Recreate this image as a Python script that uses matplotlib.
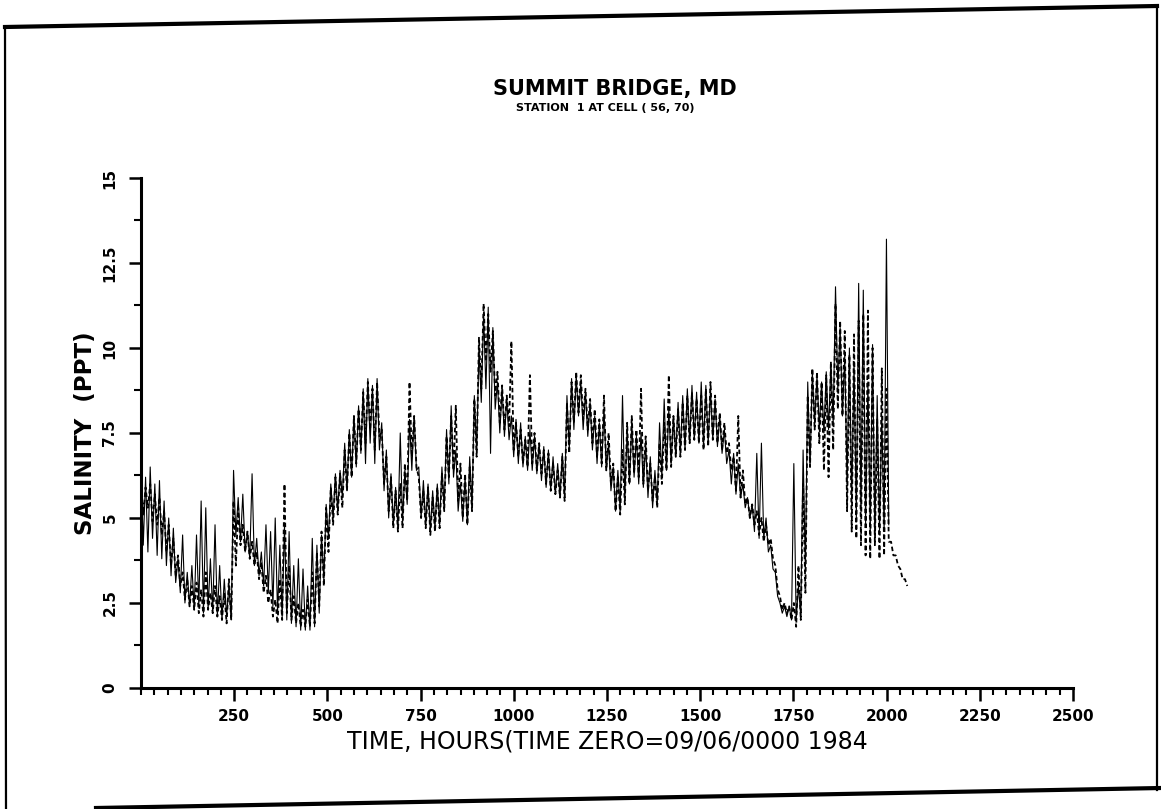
import numpy as np
import matplotlib
matplotlib.use("Agg")
import matplotlib.pyplot as plt
from matplotlib.lines import Line2D
from matplotlib.ticker import FixedLocator, MultipleLocator

# ---------------- data ----------------
TIDAL_PERIOD = 12.42  # hours between successive highs

# Dashed series: per tidal cycle high / low salinity (ppt)
model_high = [
    6.1, 5.9, 6.0, 5.7, 5.6, 5.2, 4.8, 4.4, 3.9, 3.4, 3.2, 3.0,
    3.1, 2.9, 3.4, 2.8, 3.0, 2.7, 2.8, 3.2, 5.5, 5.3, 4.8, 4.6,
    4.3, 4.0, 3.7, 3.3, 2.9, 2.6, 3.2, 6.0, 3.6, 2.7, 2.5, 2.3,
    2.6, 3.4, 4.0, 4.6, 5.3, 5.9, 6.2, 6.3, 7.0, 7.5, 8.0, 8.2,
    8.7, 9.0, 8.8, 9.0, 7.6, 6.8, 6.2, 5.8, 6.0, 6.6, 9.0, 8.0,
    6.2, 5.8, 5.9, 5.6, 5.9, 6.3, 7.4, 8.0, 8.3, 6.6, 6.3, 6.5,
    8.5, 10.3, 11.3, 11.0, 10.5, 9.3, 8.9, 8.6, 10.2, 7.8, 7.6, 7.3,
    9.2, 7.5, 7.2, 7.0, 6.9, 6.6, 6.4, 6.8, 8.4, 9.0, 9.3, 9.2,
    8.8, 8.5, 8.2, 7.9, 8.6, 7.5, 6.6, 6.2, 7.0, 7.8, 8.0, 7.6,
    8.8, 7.4, 6.6, 6.2, 7.2, 7.8, 9.2, 8.0, 8.2, 8.4, 8.6, 8.7,
    8.5, 8.6, 8.8, 9.0, 8.6, 8.1, 7.8, 7.2, 6.8, 8.0, 6.4, 5.6,
    5.4, 5.2, 5.0, 4.8, 4.4, 3.6, 2.7, 2.5, 2.4, 2.5, 3.6, 6.0,
    8.6, 9.4, 9.3, 9.0, 9.2, 9.6, 11.3, 10.8, 10.5, 9.8, 10.4, 10.8,
    11.0, 11.1, 10.0, 7.9, 9.4, 8.8, 4.3, 3.9, 3.5, 3.2,
]
model_low = [
    5.1, 5.3, 4.9, 4.8, 4.5, 4.0, 3.6, 3.3, 3.0, 2.6, 2.4, 2.3,
    2.2, 2.1, 2.3, 2.2, 2.1, 2.0, 1.9, 2.0, 3.6, 4.2, 4.0, 3.8,
    3.6, 3.2, 2.8, 2.5, 2.1, 1.9, 2.0, 2.2, 2.0, 1.9, 1.8, 1.8,
    1.8, 1.9, 2.4, 3.0, 4.0, 4.8, 5.1, 5.3, 5.8, 6.2, 6.6, 7.0,
    7.2, 7.6, 7.0, 7.4, 6.0, 5.2, 4.7, 4.6, 4.7, 5.5, 6.8, 6.5,
    5.0, 4.7, 4.5, 4.6, 4.7, 5.2, 6.2, 6.4, 5.5, 5.0, 4.8, 5.2,
    6.8, 8.8, 9.6, 9.3, 8.6, 7.8, 7.6, 7.7, 7.0, 6.8, 6.6, 6.5,
    6.6, 6.4, 6.3, 6.0, 5.8, 5.7, 5.6, 5.5, 6.9, 7.8, 8.1, 7.9,
    7.6, 7.2, 6.8, 6.6, 6.4, 6.0, 5.2, 5.1, 5.4, 6.0, 6.3, 6.2,
    6.0, 5.8, 5.5, 5.3, 6.0, 6.4, 6.5, 6.8, 6.8, 7.0, 7.2, 7.3,
    7.2, 7.0, 7.1, 7.3, 7.2, 7.0, 6.9, 6.4, 5.8, 5.6, 5.4, 5.0,
    4.8, 4.5, 4.3, 4.2, 3.8, 2.9, 2.3, 2.2, 2.0, 1.8, 2.0, 2.8,
    6.5, 7.6, 7.2, 6.4, 6.2, 7.0, 8.2, 8.0, 5.2, 4.6, 4.4, 4.2,
    3.9, 3.8, 4.2, 3.8, 3.9, 4.3, 3.9, 3.6, 3.2, 3.0,
]

# Solid series: per tidal cycle high / low salinity (ppt)
obs_high = [
    6.6, 6.2, 6.5, 6.0, 6.1, 5.5, 5.0, 4.7, 3.8, 4.5, 3.4, 3.6,
    4.5, 5.5, 5.3, 3.8, 4.8, 3.6, 3.2, 3.0, 6.4, 5.6, 5.7, 4.6,
    6.3, 4.4, 4.0, 4.8, 4.6, 5.0, 4.2, 4.8, 4.6, 3.6, 3.8, 3.5,
    3.0, 4.4, 4.2, 4.5, 5.4, 6.0, 6.3, 6.4, 7.2, 7.6, 8.0, 8.3,
    8.8, 9.1, 8.9, 9.1, 7.8, 7.0, 6.3, 5.9, 7.5, 6.4, 7.9, 8.0,
    6.5, 6.1, 6.0, 5.8, 6.0, 6.5, 7.6, 8.3, 7.0, 6.0, 6.2, 6.8,
    8.6, 10.0, 11.0, 11.2, 10.6, 9.0, 8.8, 8.5, 8.0, 7.9, 7.8, 7.4,
    7.6, 7.4, 7.2, 7.1, 7.0, 6.8, 6.6, 6.9, 8.6, 9.1, 9.2, 9.0,
    8.7, 8.4, 8.0, 7.8, 8.2, 7.2, 6.5, 6.4, 8.6, 7.6, 7.8, 7.4,
    7.5, 7.2, 6.8, 6.4, 7.8, 8.5, 8.2, 8.0, 8.4, 8.6, 8.8, 8.9,
    8.7, 9.0, 8.9, 8.8, 8.5, 8.0, 7.6, 7.0, 6.9, 6.6, 6.0, 5.6,
    5.4, 6.9, 7.2, 5.0, 4.2, 3.4, 2.5, 2.4, 2.4, 6.6, 3.0, 7.0,
    9.0, 9.3, 9.2, 9.0, 9.3, 9.5, 11.8, 10.6, 9.8, 10.0, 9.5, 11.9,
    11.7, 9.0, 10.1, 8.6, 8.0, 13.2,
]
obs_low = [
    4.2, 4.0, 4.4, 3.9, 3.8, 3.6, 3.3, 3.1, 2.8, 2.5, 2.4, 2.3,
    2.4, 2.2, 2.3, 2.2, 2.1, 2.0, 2.1, 2.0, 4.5, 4.3, 4.0, 3.8,
    3.6, 3.3, 3.0, 2.8, 2.4, 2.2, 2.1, 2.0, 1.9, 1.8, 1.7, 1.7,
    1.7, 1.8, 2.2, 3.2, 4.4, 5.0, 5.2, 5.6, 5.8, 6.2, 6.5, 6.9,
    6.6, 7.2, 6.6, 7.0, 5.8, 5.0, 4.8, 4.7, 4.9, 5.4, 6.4, 6.4,
    5.0, 4.8, 4.6, 4.7, 4.8, 5.3, 6.0, 6.2, 5.2, 4.9, 4.8, 5.3,
    6.9, 8.4, 8.8, 6.9, 8.2, 7.5, 7.4, 7.3, 6.8, 6.6, 6.5, 6.4,
    6.4, 6.3, 6.1, 5.9, 5.8, 5.7, 5.6, 5.6, 7.0, 7.6, 8.0, 7.6,
    7.4, 7.0, 6.6, 6.5, 6.4, 5.8, 5.2, 5.2, 5.6, 6.0, 6.2, 6.0,
    5.9, 5.6, 5.3, 5.4, 6.2, 6.4, 6.6, 6.8, 6.9, 7.0, 7.2, 7.3,
    7.2, 7.1, 7.2, 7.3, 7.1, 6.9, 6.6, 6.0, 5.7, 5.6, 5.3, 5.0,
    4.6, 4.4, 4.4, 4.0, 3.5, 2.7, 2.2, 2.1, 2.0, 2.0, 2.1, 3.5,
    6.5, 7.8, 7.6, 7.5, 7.6, 7.8, 8.8, 8.0, 6.0, 5.5, 5.0, 5.2,
    4.8, 4.6, 4.5, 4.6, 4.6, 4.8,
]

x_ticks = [250, 500, 750, 1000, 1250, 1500, 1750, 2000, 2250, 2500]
x_ticklabels = ["250", "500", "750", "1000", "1250", "1500", "1750", "2000", "2250", "2500"]
y_ticks = [0, 2.5, 5, 7.5, 10, 12.5, 15]
y_ticklabels = ["0", "2.5", "5", "7.5", "10", "12.5", "15"]

title = "SUMMIT BRIDGE, MD"
subtitle = "STATION  1 AT CELL ( 56, 70)"
xlabel = "TIME, HOURS(TIME ZERO=09/06/0000 1984"
ylabel = "SALINITY  (PPT)"


def tidal_series(highs, lows, period):
    n = len(highs)
    t = np.empty(2 * n)
    v = np.empty(2 * n)
    k = np.arange(n) * period
    t[0::2] = k
    t[1::2] = k + period / 2.0
    v[0::2] = highs
    v[1::2] = lows
    return t, v


t_mod, s_mod = tidal_series(model_high, model_low, TIDAL_PERIOD)
t_obs, s_obs = tidal_series(obs_high, obs_low, TIDAL_PERIOD)

# ---------------- figure ----------------
fig = plt.figure(figsize=(11.61, 8.09), dpi=100)
fig.patch.set_facecolor("white")
ax = fig.add_axes([0.1214, 0.1496, 0.8028, 0.6304])

ax.plot(t_obs, s_obs, color="black", lw=0.8, ls="-")
ax.plot(t_mod, s_mod, color="black", lw=1.3, ls=(0, (2.5, 1.6)))

ax.set_xlim(0, 2500)
ax.set_ylim(0, 15)
for side in ("top", "right"):
    ax.spines[side].set_visible(False)
for side in ("left", "bottom"):
    ax.spines[side].set_linewidth(2.2)
    ax.spines[side].set_color("black")

ax.xaxis.set_major_locator(FixedLocator(x_ticks))
ax.set_xticklabels(x_ticklabels, fontsize=11, fontweight="bold")
ax.xaxis.set_minor_locator(FixedLocator(np.linspace(0, 2500, 71)))
ax.yaxis.set_major_locator(FixedLocator(y_ticks))
ax.set_yticklabels(y_ticklabels, fontsize=11, fontweight="bold",
                   rotation=90, va="center")
ax.yaxis.set_minor_locator(MultipleLocator(1.25))

ax.tick_params(axis="x", which="major", direction="out", length=9, width=1.8, pad=6)
ax.tick_params(axis="x", which="minor", direction="out", length=5, width=1.5)
ax.tick_params(axis="y", which="major", direction="out", length=9, width=1.8, pad=8)
ax.tick_params(axis="y", which="minor", direction="out", length=5, width=1.5)

ax.set_xlabel(xlabel, fontsize=17, labelpad=4)
ax.set_ylabel(ylabel, fontsize=16.5, fontweight="bold", labelpad=4)

fig.text(0.530, 0.890, title, ha="center", va="center",
         fontsize=15, fontweight="heavy")
fig.text(0.521, 0.866, subtitle, ha="center", va="center",
         fontsize=8, fontweight="heavy")

# scanned page frame (decoration)
W, H = 1161.0, 809.0
frame = [
    ((5, 27), (1157, 6), 3.0),
    ((5, 27), (6, 809), 1.6),
    ((1157, 6), (1157, 790), 1.6),
    ((96, 808), (1161, 788), 3.0),
]
for (x0, y0), (x1, y1), lw in frame:
    fig.add_artist(Line2D([x0 / W, x1 / W], [1 - y0 / H, 1 - y1 / H],
                          transform=fig.transFigure, color="black", lw=lw))

fig.savefig("out.png", dpi=100)
